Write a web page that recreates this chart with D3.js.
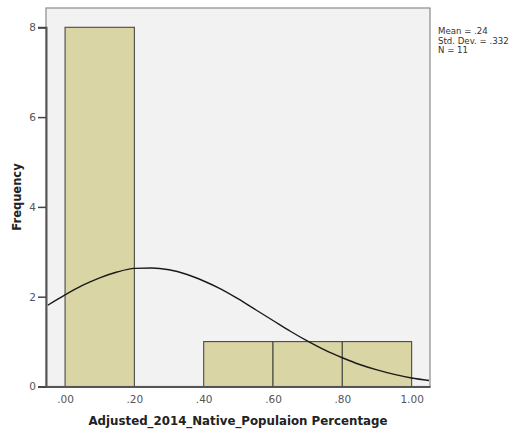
<!DOCTYPE html>
<html>
<head>
<meta charset="utf-8">
<script src="https://cdn.jsdelivr.net/npm/d3@7"></script>
<style>
  body { margin: 0; background: #fff; }
  text { font-family: "DejaVu Sans", sans-serif; }
</style>
</head>
<body>
<div id="chart"></div>
<script>
// histogram bins (lower edge, upper edge, count)
const binStarts = [0.0, 0.2, 0.4, 0.6, 0.8];
const binEnds = [0.2, 0.4, 0.6, 0.8, 1.0];
const counts = [8, 0, 1, 1, 1];

// normal curve
const curveX = [-0.05, 0, 0.05, 0.10, 0.15, 0.20, 0.25, 0.30, 0.35, 0.40, 0.45, 0.50,
  0.55, 0.60, 0.65, 0.70, 0.75, 0.80, 0.85, 0.90, 0.95, 1.00, 1.05];
const curveY = [1.81, 2.04, 2.25, 2.42, 2.55, 2.63, 2.64, 2.60, 2.50, 2.35, 2.17, 1.95,
  1.71, 1.47, 1.23, 1.01, 0.81, 0.64, 0.49, 0.37, 0.27, 0.19, 0.135];

const xTicks = [0, 0.2, 0.4, 0.6, 0.8, 1.0];
const yTicks = [0, 2, 4, 6, 8];
const statLines = ["Mean = .24", "Std. Dev. = .332", "N = 11"];
const xTitle = "Adjusted_2014_Native_Populaion Percentage";
const yTitle = "Frequency";

let width = 516, height = 432,
    margin = ({ top: 8, right: 86, bottom: 46, left: 46 });

const svg = d3.select("#chart").append("svg")
  .attr("width", width).attr("height", height);

let x = d3.scaleLinear()
  .domain([-0.055, 1.053])
  .range([margin.left, width - margin.right]);

let y = d3.scaleLinear()
  .domain([0, 8])
  .range([height - margin.bottom + 0.5, height - margin.bottom + 0.5 - 8 * 44.9]);

const plotTop = margin.top, plotBottom = height - margin.bottom + 0.5;

// plot background + frame
svg.append("rect")
  .attr("x", x.range()[0]).attr("y", plotTop)
  .attr("width", x.range()[1] - x.range()[0]).attr("height", plotBottom - plotTop)
  .attr("fill", "#f2f2f2").attr("stroke", "#8a8a8a").attr("stroke-width", 1.2);

// bars
svg.append("g").selectAll("rect")
  .data(counts.map((c, i) => ({ x0: binStarts[i], x1: binEnds[i], c })).filter(d => d.c > 0))
  .join("rect")
  .attr("x", d => x(d.x0))
  .attr("y", d => y(d.c))
  .attr("width", d => x(d.x1) - x(d.x0))
  .attr("height", d => y(0) - y(d.c))
  .attr("fill", "#d9d5a5")
  .attr("stroke", "#4a4a44")
  .attr("stroke-width", 1.1);

// normal curve
svg.append("path")
  .datum(curveX.map((v, i) => [v, curveY[i]]))
  .attr("fill", "none")
  .attr("stroke", "#1a1a1a")
  .attr("stroke-width", 1.4)
  .attr("d", d3.line().x(d => x(d[0])).y(d => y(d[1])).curve(d3.curveMonotoneX));

// axes
const yAxis = svg.append("g")
  .attr("transform", `translate(${x.range()[0]},0)`)
  .call(d3.axisLeft(y).tickValues(yTicks).tickFormat(d3.format("d")).tickSize(8).tickPadding(2));
yAxis.select(".domain").attr("stroke", "#555").attr("stroke-width", 2);
yAxis.selectAll(".tick line").attr("stroke", "#444").attr("stroke-width", 1.5);
yAxis.selectAll(".tick text").attr("fill", "#555").style("font-size", "10.5px");

const xAxis = svg.append("g")
  .attr("transform", `translate(0,${plotBottom})`)
  .call(d3.axisBottom(x).tickValues(xTicks)
    .tickFormat(d => d === 1 ? "1.00" : d3.format(".2f")(d).replace(/^0/, ""))
    .tickSize(0).tickPadding(9));
xAxis.select(".domain").attr("stroke", "#555").attr("stroke-width", 2);
xAxis.selectAll(".tick text").attr("fill", "#555").style("font-size", "10.5px");

// titles
svg.append("text")
  .attr("x", 238)
  .attr("y", 425)
  .attr("text-anchor", "middle")
  .attr("font-weight", "bold")
  .style("font-size", "11.8px")
  .attr("fill", "#222")
  .text(xTitle);

svg.append("text")
  .attr("transform", "translate(21,197) rotate(-90)")
  .attr("text-anchor", "middle")
  .attr("font-weight", "bold")
  .style("font-size", "11.5px")
  .attr("fill", "#222")
  .text(yTitle);

// stats box text
svg.append("g").selectAll("text")
  .data(statLines)
  .join("text")
  .attr("x", 438)
  .attr("y", (d, i) => 34 + i * 9.6)
  .style("font-size", "8.6px")
  .attr("fill", "#333")
  .text(d => d);
</script>
</body>
</html>
